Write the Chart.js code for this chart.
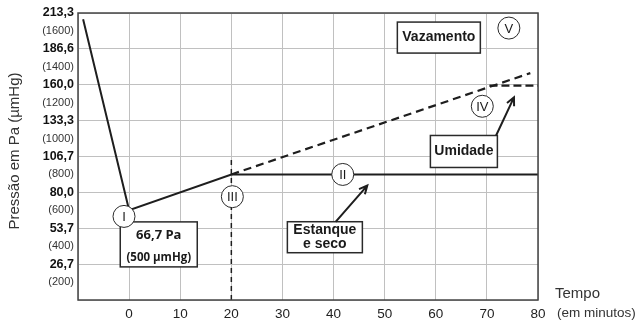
<!DOCTYPE html>
<html>
<head>
<meta charset="utf-8">
<script src="https://cdn.jsdelivr.net/npm/chart.js@4"></script>
<style>
  body { margin: 0; background: #fff; }
  #box { width: 640px; height: 320px; }
</style>
</head>
<body>
<div id="box"><canvas id="pressao" width="640" height="320"></canvas></div>
<script>
// tick labels of the y axis (Pa on top, umHg under it)
const paLabels = ['26,7', '53,7', '80,0', '106,7', '133,3', '160,0', '186,6', '213,3']
const mmLabels = ['(200)', '(400)', '(600)', '(800)', '(1000)', '(1200)', '(1400)', '(1600)']

// the curves, time in minutes and pressure in umHg
const timeMain = [-9, 0, 20, 80]
const pressMain = [1565, 500, 700, 700]

const timeLeak = [20, 78.5]
const pressLeak = [700, 1265]

const timeWet = [70.5, 80]
const pressWet = [1195, 1195]

const timeMark = [20, 20]
const pressMark = [0, 790]

// roman numerals in circles
const romanText = ['I', 'II', 'III', 'IV', 'V']
const romanTime = [-1, 41.8, 20.2, 69.1, 74.3]
const romanPress = [466, 700, 576, 1080, 1516]

function pts(xs, ys) {
    return xs.map((v, i) => ({ x: v, y: ys[i] }))
}

const ink = '#1e1e1e'

const data = {
    datasets: [
        { data: pts(timeMain, pressMain), borderColor: ink, borderWidth: 2 },
        { data: pts(timeLeak, pressLeak), borderColor: ink, borderWidth: 2.2, borderDash: [8, 5] },
        { data: pts(timeWet, pressWet), borderColor: ink, borderWidth: 2.2, borderDash: [8, 4] },
        { data: pts(timeMark, pressMark), borderColor: ink, borderWidth: 1.5, borderDash: [5, 4] }
    ]
}

// is this an even tick (with a grid line and a Pa label)
function isMain(c) {
    return c.tick !== undefined && c.tick.value % 200 === 0
}

function textBox(ctx, cx, cy, w, h, lines) {
    ctx.fillStyle = '#fff'
    ctx.fillRect(cx - w / 2, cy - h / 2, w, h)
    ctx.strokeStyle = '#2a2a2a'
    ctx.lineWidth = 1.5
    ctx.strokeRect(cx - w / 2, cy - h / 2, w, h)
    ctx.fillStyle = '#1a1a1a'
    ctx.textAlign = 'center'
    ctx.textBaseline = 'middle'
    lines.forEach(l => {
        ctx.font = l.font
        ctx.fillText(l.t, cx, cy + l.dy)
    })
}

function arrow(ctx, x1, y1, x2, y2) {
    ctx.strokeStyle = ink
    ctx.lineWidth = 2
    ctx.beginPath()
    ctx.moveTo(x1, y1)
    ctx.lineTo(x2, y2)
    const a = Math.atan2(y2 - y1, x2 - x1)
    ctx.moveTo(x2 - 9 * Math.cos(a - 0.45), y2 - 9 * Math.sin(a - 0.45))
    ctx.lineTo(x2, y2)
    ctx.lineTo(x2 - 9 * Math.cos(a + 0.45), y2 - 9 * Math.sin(a + 0.45))
    ctx.stroke()
}

const extras = {
    id: 'extras',
    afterDatasetsDraw(chart) {
        const ctx = chart.ctx
        const x = chart.scales.x
        const y = chart.scales.y
        const a = chart.chartArea
        ctx.save()

        // frame
        ctx.strokeStyle = '#444'
        ctx.lineWidth = 1.5
        ctx.strokeRect(a.left, a.top, a.right - a.left, a.bottom - a.top)

        // boxes
        textBox(ctx, x.getPixelForValue(5.8), y.getPixelForValue(310), 77, 45, [
            { t: '66,7 Pa', font: 'bold 13px "Open Sans"', dy: -9 },
            { t: '(500 µmHg)', font: 'bold 11.5px "Open Sans"', dy: 13 }
        ])
        textBox(ctx, x.getPixelForValue(38.3), y.getPixelForValue(350), 75, 31, [
            { t: 'Estanque', font: 'bold 14px "Liberation Sans"', dy: -7 },
            { t: 'e seco', font: 'bold 14px "Liberation Sans"', dy: 7 }
        ])
        textBox(ctx, x.getPixelForValue(60.6), y.getPixelForValue(1463), 83, 31, [
            { t: 'Vazamento', font: 'bold 14px "Liberation Sans"', dy: 0 }
        ])
        textBox(ctx, x.getPixelForValue(65.5), y.getPixelForValue(828), 67, 32, [
            { t: 'Umidade', font: 'bold 14px "Liberation Sans"', dy: 0 }
        ])

        // arrows
        arrow(ctx, x.getPixelForValue(40.4), y.getPixelForValue(436), x.getPixelForValue(46.6), y.getPixelForValue(638))
        arrow(ctx, x.getPixelForValue(71.8), y.getPixelForValue(917), x.getPixelForValue(75.3), y.getPixelForValue(1130))

        // circles
        for (let i = 0; i < romanText.length; i++) {
            const cx = x.getPixelForValue(romanTime[i])
            const cy = y.getPixelForValue(romanPress[i])
            ctx.beginPath()
            ctx.arc(cx, cy, 11, 0, Math.PI * 2)
            ctx.fillStyle = '#fff'
            ctx.fill()
            ctx.strokeStyle = '#2a2a2a'
            ctx.lineWidth = 1
            ctx.stroke()
            ctx.fillStyle = '#1a1a1a'
            ctx.font = '13px "Liberation Sans"'
            ctx.textAlign = 'center'
            ctx.textBaseline = 'middle'
            ctx.fillText(romanText[i], cx, cy + 1)
        }

        // axis titles
        ctx.fillStyle = '#333'
        ctx.textAlign = 'left'
        ctx.font = '15px "Liberation Sans"'
        ctx.fillText('Tempo', 555, 294)
        ctx.font = '13.5px "Liberation Sans"'
        ctx.fillText('(em minutos)', 557, 313)
        ctx.font = '15px "Liberation Sans"'
        ctx.translate(15, 151)
        ctx.rotate(-Math.PI / 2)
        ctx.textAlign = 'center'
        ctx.fillText('Pressão em Pa (µmHg)', 0, 0)
        ctx.restore()
    }
}

const config = {
    type: 'line',
    data: data,
    options: {
        responsive: false,
        animation: false,
        layout: { padding: { top: 13, right: 102, left: 0, bottom: 0 } },
        elements: { point: { radius: 0 }, line: { tension: 0 } },
        plugins: { legend: { display: false }, tooltip: { enabled: false } },
        scales: {
            x: {
                type: 'linear',
                min: -10,
                max: 80,
                afterFit: s => { s.height = 20 },
                border: { display: false },
                grid: { color: '#c0c0c0', drawTicks: false },
                ticks: {
                    stepSize: 10,
                    padding: 6,
                    color: '#222',
                    font: { family: 'Liberation Sans', size: 13.5 },
                    callback: v => v < 0 ? '' : v
                }
            },
            y: {
                min: 0,
                max: 1600,
                afterFit: s => { s.width = 78 },
                border: { display: false },
                grid: {
                    drawTicks: false,
                    color: c => isMain(c) ? '#c0c0c0' : 'rgba(0,0,0,0)'
                },
                ticks: {
                    stepSize: 100,
                    autoSkip: false,
                    padding: 4,
                    color: c => isMain(c) ? '#111' : '#333',
                    font: c => isMain(c)
                        ? { family: 'Liberation Sans', size: 12.5, weight: 'bold' }
                        : { family: 'Liberation Sans', size: 11 },
                    callback: v => {
                        if (v === 0) return ''
                        if (v % 200 === 0) return paLabels[v / 200 - 1]
                        return mmLabels[(v + 100) / 200 - 1]
                    }
                }
            }
        }
    },
    plugins: [extras]
}

const chart = new Chart(document.getElementById('pressao'), config)
</script>
</body>
</html>
